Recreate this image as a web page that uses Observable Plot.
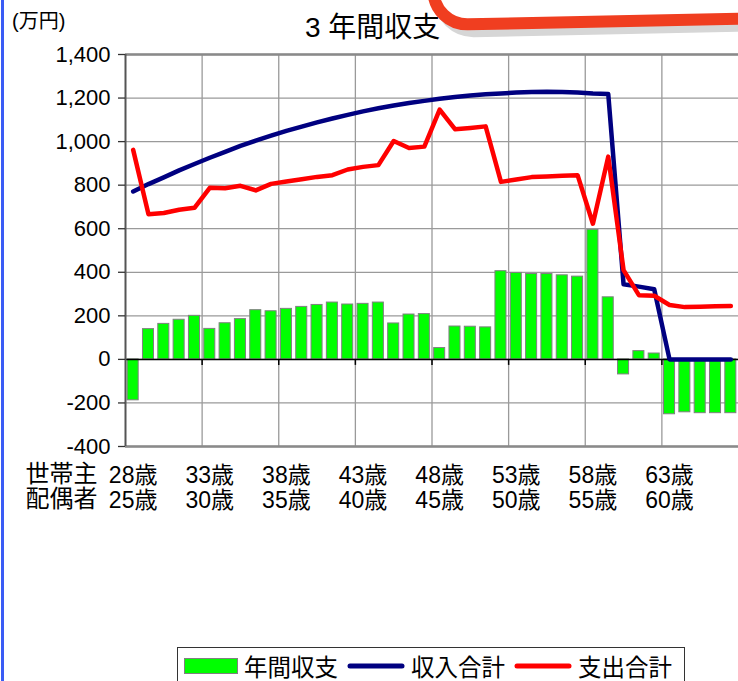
<!DOCTYPE html>
<html>
<head>
<meta charset="utf-8">
<script src="https://cdn.jsdelivr.net/npm/d3@7"></script>
<script src="https://cdn.jsdelivr.net/npm/@observablehq/plot@0.6"></script>
<style>
  html, body { margin: 0; padding: 0; background: #fff; }
  body { width: 738px; height: 681px; overflow: hidden; position: relative;
         font-family: "Liberation Sans", "Noto Sans CJK JP", sans-serif; color: #000; }
  #border { position: absolute; left: 1px; top: 0; width: 3px; height: 681px; background: #3a5cf5; }
  #unit { position: absolute; left: 12px; top: 5px; font-size: 20px; }
  #title { position: absolute; left: 305px; top: 5px; font-size: 28px; white-space: nowrap; }
  #chart { position: absolute; left: 0; top: 0; }
  #stamp { position: absolute; left: 0; top: 0; }
  #legend { position: absolute; left: 177px; top: 647px; width: 508px; height: 37px;
            border: 1.5px solid #333; box-sizing: border-box; background: #fff;
            display: flex; align-items: center; font-size: 23.5px; padding-left: 6px; }
  #legend .sw { display: inline-block; }
  #legend .lab { margin-right: 9px; margin-left: 6px; }
</style>
</head>
<body>
<div id="chart"></div>
<div id="border"></div>
<div id="unit">(万円)</div>
<div id="title">3 年間収支</div>
<svg id="stamp" width="738" height="60" viewBox="0 0 738 60">
  <g transform="rotate(-1.2 434 20)">
    <rect x="440" y="-68" width="360" height="100" rx="34" fill="none" stroke="#d6d6d6" stroke-width="12"></rect>
    <rect x="434" y="-75" width="360" height="100" rx="34" fill="#fff" stroke="#f03e20" stroke-width="12"></rect>
  </g>
</svg>
<div id="legend">
  <svg class="sw" width="54" height="16"><rect x="0.5" y="0.5" width="53" height="15" fill="#00ff00" stroke="#808080"></rect></svg>
  <span class="lab">年間収支</span>
  <svg class="sw" width="58" height="10"><line x1="3" y1="5" x2="55" y2="5" stroke="#000080" stroke-width="5" stroke-linecap="round"></line></svg>
  <span class="lab">収入合計</span>
  <svg class="sw" width="58" height="10"><line x1="3" y1="5" x2="55" y2="5" stroke="#ff0000" stroke-width="5" stroke-linecap="round"></line></svg>
  <span class="lab">支出合計</span>
</div>
<script>
// 世帯主の年齢 (categories)
const ages = [28,29,30,31,32,33,34,35,36,37,38,39,40,41,42,43,44,45,46,47,
              48,49,50,51,52,53,54,55,56,57,58,59,60,61,62,63,64,65,66,67];
// 年間収支 (万円)
const balance = [-188,139,163,182,200,140,166,185,226,221,232,241,250,261,252,255,261,165,206,208,
                 52,151,150,147,405,397,392,392,386,380,595,285,-69,38,27,-252,-243,-247,-247,-247];
// 収入合計 (万円)
const income = [771,805,836,868,897,926,953,980,1004,1027,1049,1069,1088,1106,1123,1139,1153,1166,1177,1187,
                1197,1205,1212,1217,1221,1225,1228,1229,1228,1225,1221,1219,345,334,322,0,0,0,0,0];
// 支出合計 (万円)
const expense = [962,666,672,687,696,788,786,797,776,806,817,827,838,846,872,884,892,1003,971,977,
                 1147,1057,1063,1070,815,826,837,840,843,846,623,931,410,295,292,250,240,242,244,245];
// tick labels
const yTicks = [-400,-200,0,200,400,600,800,1000,1200,1400];
const headTicks = [28,33,38,43,48,53,58,63];
const spouseTicks = [25,30,35,40,45,50,55,60];
const rowLabels = ["世帯主", "配偶者"];

const rows = ages.map((a, i) => ({age: a, balance: balance[i], income: income[i], expense: expense[i]}));
const xMin = ages[0] - 0.5, xMax = ages[ages.length - 1] + 0.5;
const gridX = headTicks.slice(1).map(a => a - 0.5);
const fmt = d => (d < 0 ? "-" : "") + d3.format(",")(Math.abs(d));

const chart = Plot.plot({
  width: 738,
  height: 530,
  marginTop: 54,
  marginLeft: 125,
  marginRight: 0,
  marginBottom: 84,
  style: {fontFamily: "'Liberation Sans', 'Noto Sans CJK JP', sans-serif", fontSize: "22px", background: "transparent", overflow: "visible", color: "#000"},
  x: {domain: [xMin, xMax], axis: null},
  y: {domain: [yTicks[0], yTicks[yTicks.length - 1]], axis: null},
  marks: [
    Plot.ruleY(yTicks, {stroke: "#9a9a9a", strokeWidth: 1.3}),
    Plot.ruleX(gridX, {stroke: "#9a9a9a", strokeWidth: 1.3}),
    Plot.ruleY([yTicks[0], yTicks[yTicks.length - 1]], {stroke: "#8a8a8a", strokeWidth: 2.5}),
    Plot.rect(rows, {x1: d => d.age - 0.36, x2: d => d.age + 0.36, y1: 0, y2: "balance", fill: "#00ff00", stroke: "#808080", strokeWidth: 1}),
    Plot.ruleY([0], {stroke: "#000", strokeWidth: 1.5}),
    Plot.ruleX(gridX, {y1: 0, y2: 0, insetBottom: -6, stroke: "#000", strokeWidth: 1.5}),
    Plot.ruleX([xMin], {stroke: "#555", strokeWidth: 2}),
    Plot.ruleY(yTicks, {x1: xMin, x2: xMin, insetLeft: -7, stroke: "#333", strokeWidth: 1.3}),
    Plot.line(rows, {x: "age", y: "income", stroke: "#000080", strokeWidth: 4.5, strokeLinejoin: "round", strokeLinecap: "round"}),
    Plot.line(rows, {x: "age", y: "expense", stroke: "#ff0000", strokeWidth: 4.5, strokeLinejoin: "round", strokeLinecap: "round"}),
    Plot.text(yTicks, {x: xMin, y: d => d, text: fmt, textAnchor: "end", dx: -15, fontSize: 22, fill: "#000"}),
    Plot.text(headTicks, {x: d => d, text: d => d + "歳", frameAnchor: "bottom", dy: 36, fontSize: 23, fill: "#000"}),
    Plot.text(headTicks, {x: d => d, text: (d, i) => spouseTicks[i] + "歳", frameAnchor: "bottom", dy: 61, fontSize: 23, fill: "#000"}),
    Plot.text([rowLabels[0]], {frameAnchor: "bottom-left", text: d => d, textAnchor: "end", dx: -28, dy: 35, fontSize: 24, fill: "#000"}),
    Plot.text([rowLabels[1]], {frameAnchor: "bottom-left", text: d => d, textAnchor: "end", dx: -28, dy: 60, fontSize: 24, fill: "#000"})
  ]
});
document.getElementById("chart").appendChild(chart);
</script>
</body>
</html>
